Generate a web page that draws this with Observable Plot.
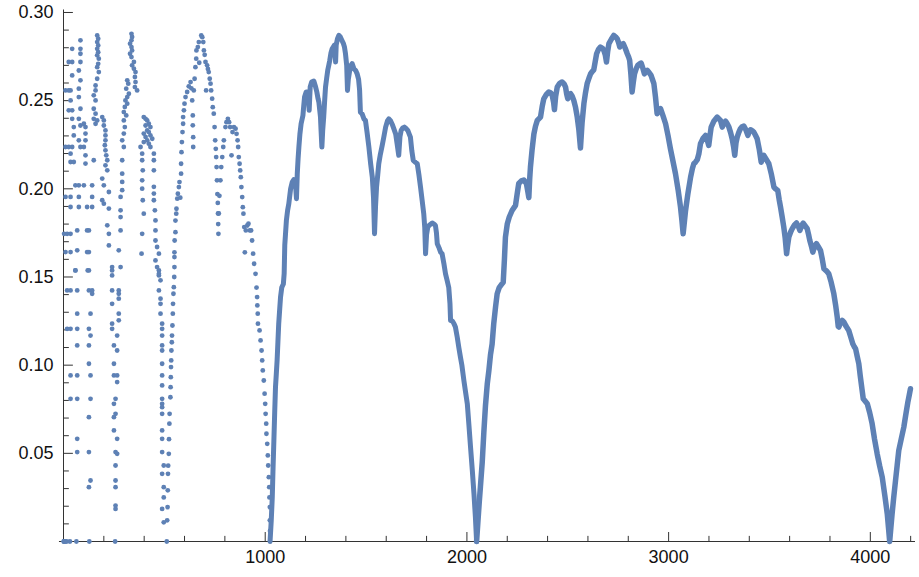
<!DOCTYPE html>
<html><head><meta charset="utf-8">
<script src="https://cdn.jsdelivr.net/npm/d3@7"></script>
<script src="https://cdn.jsdelivr.net/npm/@observablehq/plot@0.6"></script>
<style>body{margin:0;background:#fff}</style>
</head><body><div id="chart"></div>
<script>
// ---- data: [n, value] ----
const seg2048 = [[2048,0],[2055,0.012],[2061,0.022],[2067,0.031],[2076,0.045],[2084,0.062],[2092,0.077],[2101,0.0894],[2109,0.097],[2117,0.106],[2125,0.112],[2133,0.1235],[2142,0.133],[2150,0.1405],[2160,0.144],[2170,0.1455],[2180,0.147],[2186,0.16],[2191,0.1726],[2200,0.18],[2210,0.184],[2224,0.1877],[2241,0.1906],[2249,0.197],[2257,0.203],[2270,0.2045],[2282,0.205],[2295,0.203],[2302,0.1985],[2307,0.195],[2311,0.205],[2315,0.2123],[2323,0.222],[2332,0.231],[2340,0.2355],[2349,0.2388],[2365,0.2407],[2373,0.2465],[2381,0.251],[2394,0.2535],[2406,0.2549],[2415,0.2545],[2423,0.253],[2430,0.249],[2434,0.2449],[2440,0.2525],[2448,0.2577],[2460,0.2598],[2472,0.2606],[2482,0.2595],[2489,0.2577],[2495,0.2535],[2500,0.2511],[2507,0.2535],[2514,0.254],[2522,0.2525],[2530,0.2501],[2538,0.2465],[2547,0.2407],[2555,0.2335],[2563,0.2231],[2571,0.2375],[2580,0.2483],[2588,0.2545],[2596,0.2596],[2605,0.2627],[2613,0.2652],[2621,0.2665],[2629,0.2675],[2636,0.272],[2643,0.2766],[2652,0.279],[2662,0.2804],[2672,0.2797],[2679,0.2785],[2686,0.276],[2692,0.2719],[2698,0.278],[2704,0.2823],[2716,0.2848],[2728,0.287],[2737,0.2862],[2745,0.2851],[2752,0.283],[2758,0.2804],[2766,0.2818],[2775,0.2823],[2785,0.2797],[2795,0.2766],[2801,0.275],[2807,0.2728],[2813,0.265],[2819,0.2549],[2825,0.2605],[2831,0.2652],[2839,0.268],[2847,0.27],[2855,0.2708],[2864,0.2713],[2872,0.2685],[2880,0.2652],[2887,0.2665],[2894,0.2672],[2904,0.2658],[2913,0.2643],[2920,0.262],[2927,0.2596],[2935,0.252],[2943,0.2426],[2952,0.2445],[2960,0.2454],[2972,0.2415],[2985,0.2369],[2997,0.2302],[3009,0.2227],[3021,0.216],[3034,0.2086],[3047,0.1995],[3059,0.1896],[3066,0.182],[3072,0.1745],[3078,0.181],[3084,0.1877],[3096,0.1975],[3109,0.2066],[3118,0.2115],[3125,0.2142],[3133,0.2151],[3142,0.2165],[3150,0.2199],[3158,0.2256],[3170,0.2285],[3183,0.2303],[3191,0.228],[3199,0.2246],[3205,0.23],[3211,0.235],[3225,0.2385],[3241,0.2407],[3257,0.2388],[3266,0.235],[3274,0.2375],[3282,0.2384],[3290,0.237],[3299,0.235],[3307,0.232],[3315,0.2284],[3322,0.224],[3328,0.219],[3334,0.226],[3340,0.2293],[3348,0.232],[3356,0.2341],[3364,0.2352],[3373,0.2356],[3383,0.2335],[3393,0.2303],[3400,0.2325],[3406,0.2335],[3414,0.233],[3422,0.2322],[3430,0.2305],[3439,0.2284],[3450,0.222],[3459,0.2151],[3466,0.2175],[3472,0.219],[3485,0.2165],[3497,0.2142],[3510,0.208],[3522,0.201],[3530,0.2],[3541,0.1991],[3548,0.194],[3555,0.1896],[3563,0.184],[3571,0.1783],[3578,0.172],[3585,0.1632],[3590,0.168],[3596,0.1726],[3605,0.1755],[3613,0.1774],[3624,0.1795],[3634,0.1806],[3642,0.179],[3651,0.1764],[3659,0.179],[3667,0.1806],[3677,0.179],[3687,0.1774],[3694,0.174],[3700,0.1707],[3708,0.1675],[3715,0.1641],[3724,0.1675],[3733,0.1689],[3743,0.167],[3753,0.1651],[3762,0.16],[3770,0.1547],[3782,0.1535],[3794,0.1518],[3806,0.147],[3819,0.1405],[3828,0.134],[3836,0.1272],[3841,0.122],[3844,0.1216],[3852,0.124],[3861,0.1254],[3869,0.1244],[3880,0.122],[3893,0.1197],[3903,0.116],[3913,0.1121],[3920,0.1105],[3927,0.1093],[3935,0.105],[3943,0.1008],[3950,0.094],[3958,0.087],[3965,0.0809],[3975,0.0795],[3985,0.0781],[3997,0.073],[4009,0.0668],[4021,0.058],[4034,0.0497],[4046,0.043],[4059,0.0365],[4072,0.026],[4084,0.0157],[4090,0.008],[4096,0],[4102,0.008],[4108,0.0157],[4116,0.025],[4125,0.0346],[4133,0.043],[4141,0.0516],[4153,0.058],[4166,0.0648],[4176,0.072],[4186,0.079],[4193,0.083],[4199,0.0866]];

const seg1024 = [[1024,0],[1030,0.012],[1035,0.025],[1039,0.042],[1043,0.0573],[1047,0.073],[1051,0.0875],[1055,0.095],[1059,0.1027],[1063,0.113],[1067,0.1235],[1072,0.132],[1076,0.1386],[1082,0.144],[1090,0.146],[1094,0.152],[1097,0.168],[1105,0.182],[1111,0.1877],[1117,0.1915],[1126,0.2],[1134,0.2038],[1142,0.2052],[1150,0.203],[1155,0.1944],[1159,0.2086],[1163,0.217],[1167,0.2237],[1172,0.231],[1178,0.2369],[1187,0.2416],[1191,0.247],[1195,0.252],[1203,0.2549],[1208,0.2549],[1214,0.252],[1218,0.2445],[1223,0.2577],[1230,0.2605],[1241,0.2611],[1250,0.2577],[1256,0.2549],[1262,0.2511],[1266,0.2492],[1274,0.2407],[1277,0.233],[1281,0.2237],[1285,0.233],[1290,0.2407],[1295,0.2505],[1299,0.2577],[1305,0.263],[1310,0.2672],[1316,0.2705],[1320,0.2728],[1326,0.277],[1332,0.2794],[1342,0.2813],[1346,0.279],[1349,0.2719],[1352,0.2815],[1358,0.285],[1365,0.287],[1372,0.2862],[1380,0.2842],[1388,0.2823],[1393,0.2804],[1398,0.2766],[1404,0.27],[1408,0.2558],[1412,0.262],[1419,0.2672],[1425,0.27],[1431,0.271],[1440,0.268],[1448,0.2672],[1456,0.2652],[1463,0.262],[1468,0.256],[1472,0.2435],[1480,0.2426],[1490,0.2395],[1497,0.2388],[1505,0.232],[1514,0.2237],[1523,0.214],[1531,0.2066],[1537,0.195],[1542,0.1745],[1547,0.19],[1552,0.201],[1558,0.208],[1563,0.2142],[1570,0.219],[1580,0.2246],[1588,0.2293],[1597,0.235],[1606,0.2385],[1613,0.2397],[1622,0.2385],[1630,0.2365],[1638,0.234],[1647,0.231],[1654,0.2255],[1662,0.219],[1668,0.2295],[1674,0.2331],[1682,0.2345],[1690,0.235],[1698,0.2342],[1707,0.2331],[1714,0.231],[1720,0.2293],[1727,0.2215],[1734,0.2161],[1745,0.215],[1754,0.2142],[1762,0.208],[1770,0.201],[1778,0.1935],[1786,0.1859],[1791,0.178],[1795,0.1632],[1800,0.174],[1806,0.1783],[1815,0.1795],[1828,0.1806],[1837,0.18],[1844,0.1792],[1849,0.175],[1853,0.1689],[1862,0.1665],[1870,0.164],[1877,0.1632],[1886,0.1575],[1894,0.1518],[1902,0.148],[1910,0.144],[1916,0.135],[1919,0.1254],[1928,0.125],[1936,0.1235],[1943,0.1216],[1952,0.1159],[1960,0.11],[1968,0.1045],[1975,0.1],[1985,0.0913],[1993,0.085],[2002,0.0781],[2010,0.066],[2018,0.0535],[2027,0.04],[2035,0.027],[2042,0.014],[2048,0]];

const dots512 = [[512,0],[514,0.012],[516,0.0195],[517,0.029],[518,0.0384],[519,0.043],[522,0.0497],[523,0.058],[525,0.0668],[526,0.0724],[530,0.0818],[531,0.0875],[532,0.0932],[533,0.0989],[534,0.1027],[535,0.1083],[537,0.113],[538,0.1168],[540,0.1225],[542,0.1292],[543,0.1348],[545,0.1405],[547,0.1442],[549,0.15],[550,0.1556],[550,0.1613],[550,0.164],[551,0.1707],[555,0.1754],[555,0.182],[559,0.1859],[560,0.1887],[564,0.1944],[567,0.1972],[572,0.201],[575,0.2038],[579,0.195],[583,0.2086],[583,0.2142],[585,0.2208],[587,0.2265],[590,0.2322],[593,0.2369],[593,0.2407],[597,0.2445],[600,0.2483],[605,0.252],[613,0.2549],[621,0.2581],[630,0.2605],[634,0.257],[638,0.2501],[641,0.2416],[641,0.236],[643,0.2293],[643,0.2237],[646,0.2558],[650,0.2624],[654,0.269],[658,0.2738],[659,0.2785],[666,0.2804],[671,0.2832],[673,0.2715],[683,0.287],[688,0.286],[693,0.2832],[696,0.2785],[700,0.276],[704,0.2719],[707,0.2558],[712,0.27],[716,0.268],[720,0.2662],[725,0.2624],[729,0.2596],[732,0.2558],[737,0.2511],[740,0.2463],[745,0.2426],[749,0.235],[752,0.2275],[755,0.2227],[757,0.218],[759,0.2123],[761,0.2048],[763,0.197],[765,0.192],[766,0.186],[767,0.18],[768,0.1745],[770,0.186],[773,0.196],[778,0.2048],[782,0.2123],[787,0.218],[792,0.2237],[795,0.2275],[803,0.235],[808,0.2378],[815,0.2397],[821,0.2378],[826,0.235],[833,0.219],[838,0.2322],[845,0.235],[853,0.2341],[858,0.2312],[863,0.2275],[866,0.2237],[869,0.218],[873,0.2142],[876,0.2104],[879,0.2066],[882,0.201],[886,0.1953],[889,0.1896],[892,0.1859],[896,0.1783],[899,0.164],[904,0.1764],[911,0.1792],[917,0.1802],[924,0.1764],[930,0.1764],[935,0.1707],[940,0.1632],[945,0.1575],[952,0.1518],[957,0.144],[960,0.1386],[961,0.1339],[963,0.1292],[964,0.1235],[972,0.1197],[977,0.114],[982,0.1083],[985,0.1027],[988,0.097],[993,0.0913],[997,0.0838],[1000,0.0781],[1002,0.0724],[1005,0.0668],[1006,0.0611],[1010,0.0554],[1013,0.0488],[1015,0.0431],[1018,0.0365],[1020,0.0308],[1021,0.025],[1023,0.0195],[1023,0.012],[1024,0.006]];

const scatterLow = [[1,0],[2,0],[4,0],[8,0],[16,0],[32,0],[64,0],[128,0],[256,0],
[59,0.1537],[120,0.1537],[241,0.1537],[473,0.1537],[241,0.1509],[473,0.1509],
[18,0.1424],[35,0.1424],[68,0.1424],[126,0.1424],[142,0.1424],[241,0.1424],[274,0.1424],[473,0.1424],
[142,0.1405],[274,0.1405],[274,0.1377],[481,0.1377],[241,0.1348],[481,0.1348],
[68,0.1292],[134,0.1292],[274,0.1292],[481,0.1292],[274,0.1254],[241,0.1235],[489,0.1235],
[18,0.1206],[35,0.1206],[68,0.1206],[126,0.1206],[241,0.1206],[489,0.1206],
[134,0.1168],[266,0.1168],[489,0.1168],[68,0.1112],[126,0.1112],[250,0.1112],[489,0.1112],
[266,0.1083],[489,0.1083],[126,0.1008],[250,0.1008],[489,0.1008],
[35,0.0942],[68,0.0942],[134,0.0942],[250,0.0942],[266,0.0942],[489,0.0942],[266,0.0904],[489,0.0885],
[35,0.0809],[68,0.0809],[134,0.0809],[258,0.0809],[489,0.0809],[250,0.0781],[489,0.0781],[489,0.0762],
[258,0.0724],[489,0.0724],[126,0.0705],[250,0.0705],[250,0.063],[489,0.063],
[68,0.0582],[266,0.0582],[489,0.0582],[68,0.0507],[126,0.0507],[258,0.0507],[489,0.0507],[266,0.0497],
[258,0.0431],[497,0.0431],[489,0.0384],[134,0.0346],[258,0.0346],[126,0.0308],[258,0.0308],[497,0.0308],
[497,0.025],[258,0.0204],[258,0.0185],[489,0.0185],[497,0.0109]];

const scatterHigh = [[43,0.2794],[26,0.2719],[43,0.2719],[43,0.2643],[10,0.2558],[26,0.2558],[35,0.2558],[35,0.2501],[26,0.2445],[43,0.2445],[43,0.2397],[51,0.235],[51,0.2303],[10,0.2237],[26,0.2237],[43,0.2237],[35,0.2199],[35,0.2152],[51,0.2152],[59,0.202],[10,0.1954],[35,0.1954],[35,0.1897],[3,0.1745],[18,0.1745],[35,0.1745],[10,0.1641],[35,0.1641],[59,0.1537],
[84,0.2842],[84,0.2794],[84,0.2766],[84,0.2719],[76,0.2671],[84,0.2615],[76,0.2568],[76,0.252],[84,0.2454],[76,0.2397],[84,0.2359],[76,0.2275],[84,0.2237],[76,0.202],[76,0.1954],[76,0.1897],[68,0.1764],[68,0.1651],
[101,0.2369],[109,0.235],[109,0.2313],[109,0.2275],[101,0.2237],[109,0.219],[109,0.2143],[101,0.202],[117,0.1897],[117,0.1764],[126,0.1764],[117,0.1641],[126,0.1641],[126,0.1537],
[167,0.287],[172,0.2851],[167,0.2832],[172,0.2813],[167,0.2794],[172,0.2775],[167,0.2757],[175,0.2738],[172,0.2709],[167,0.269],[175,0.2662],[167,0.2624],[159,0.2586],[159,0.2558],[150,0.253],[159,0.2501],[150,0.2454],[159,0.2426],[150,0.2397],[167,0.2388],[159,0.2369],[150,0.2162],[142,0.202],[142,0.1954],[142,0.1897],
[192,0.2407],[200,0.2388],[200,0.2359],[208,0.2331],[208,0.2303],[208,0.2275],[205,0.2247],[208,0.2218],[212,0.219],[217,0.2162],[208,0.2133],[217,0.2105],[192,0.2058],[200,0.202],[225,0.1982],[192,0.1935],[200,0.1916],[225,0.1888],[217,0.1793],[225,0.1745],[225,0.1679],[241,0.1556],
[337,0.2879],[340,0.2861],[337,0.2842],[330,0.2823],[337,0.2804],[340,0.2785],[330,0.2766],[337,0.2747],[349,0.2719],[340,0.27],[349,0.2681],[357,0.2662],[354,0.2634],[357,0.2605],[354,0.2577],[365,0.2558],[316,0.2615],[321,0.2596],[311,0.2568],[324,0.2539],[316,0.252],[307,0.2501],[316,0.2483],[304,0.2464],[299,0.2435],[311,0.2416],[299,0.2388],[304,0.235],[299,0.2313],[291,0.2275],[299,0.2237],[291,0.2162],[291,0.2086],[291,0.2039],[291,0.1992],[283,0.1954],[283,0.1878],[283,0.184],[283,0.1764],[274,0.1651],[283,0.1556],
[398,0.2407],[407,0.2397],[415,0.2388],[423,0.2369],[431,0.235],[407,0.2359],[415,0.2331],[423,0.2322],[398,0.2313],[431,0.2303],[407,0.2294],[440,0.2284],[415,0.2275],[398,0.2265],[423,0.2256],[431,0.2237],[382,0.2237],[390,0.2199],[390,0.2162],[393,0.2105],[390,0.2048],[390,0.2001],[393,0.1935],[398,0.1859],[390,0.1745],[387,0.1632],[448,0.2199],[448,0.2162],[448,0.2105],[448,0.2011],[448,0.1973],[448,0.1935],[453,0.1878],[456,0.1821],[456,0.1764],[456,0.1707],[464,0.167],[473,0.1632],[456,0.1594],[464,0.1556],[473,0.1518],[481,0.1481]];

const yMajor = [0.05, 0.10, 0.15, 0.20, 0.25, 0.30];
const yLabels = ["0.05", "0.10", "0.15", "0.20", "0.25", "0.30"];
const yMinor = [0.01,0.02,0.03,0.04,0.06,0.07,0.08,0.09,0.11,0.12,0.13,0.14,0.16,0.17,0.18,0.19,0.21,0.22,0.23,0.24,0.26,0.27,0.28,0.29];
const xMajor = [1000, 2000, 3000, 4000];
const xLabels = ["1000", "2000", "3000", "4000"];
const xMinor = [200,400,600,800,1200,1400,1600,1800,2200,2400,2600,2800,3200,3400,3600,3800,4200];

// ---- drawing ----
const blue = "#5E81B5";
const axisColor = "#333";
const X = d => d[0], Y = d => d[1];
const chart = Plot.plot({
  width: 919, height: 577,
  marginLeft: 63, marginRight: 4, marginTop: 9.5, marginBottom: 36,
  x: {domain: [0, 4224], axis: null},
  y: {domain: [0, 0.3014], axis: null},
  style: {fontFamily: "'Liberation Sans', Arial, sans-serif", fontSize: "18px", background: "white"},
  marks: [
    Plot.ruleY([0], {x1: -20, x2: 4224, stroke: axisColor, strokeWidth: 1}),
    Plot.ruleX([0], {y1: 0, y2: 0.3014, stroke: axisColor, strokeWidth: 1}),
    Plot.ruleX(xMajor, {y1: 0, y2: 0.0051, stroke: axisColor}),
    Plot.ruleX(xMinor, {y1: 0, y2: 0.0029, stroke: axisColor}),
    Plot.ruleY(yMajor, {x1: 0, x2: 49, stroke: axisColor}),
    Plot.ruleY(yMinor, {x1: 0, x2: 29, stroke: axisColor}),
    Plot.line(seg2048, {x: X, y: Y, stroke: blue, strokeWidth: 5.5, strokeLinejoin: "round", strokeLinecap: "round"}),
    Plot.line(seg1024, {x: X, y: Y, stroke: blue, strokeWidth: 5, strokeLinejoin: "round", strokeLinecap: "round"}),
    Plot.dot(dots512, {x: X, y: Y, r: 2.4, fill: blue}),
    Plot.dot(scatterLow, {x: X, y: Y, r: 2.4, fill: blue}),
    Plot.dot(scatterHigh, {x: X, y: Y, r: 2.4, fill: blue}),
    Plot.text(yMajor, {x: 0, y: d => d, text: (d, i) => yLabels[i], dx: -10, textAnchor: "end", fill: "#111"}),
    Plot.text(xMajor, {x: d => d, y: 0, text: (d, i) => xLabels[i], dy: 16, fill: "#111"})
  ]
});
document.getElementById("chart").appendChild(chart);
</script>
</body></html>
